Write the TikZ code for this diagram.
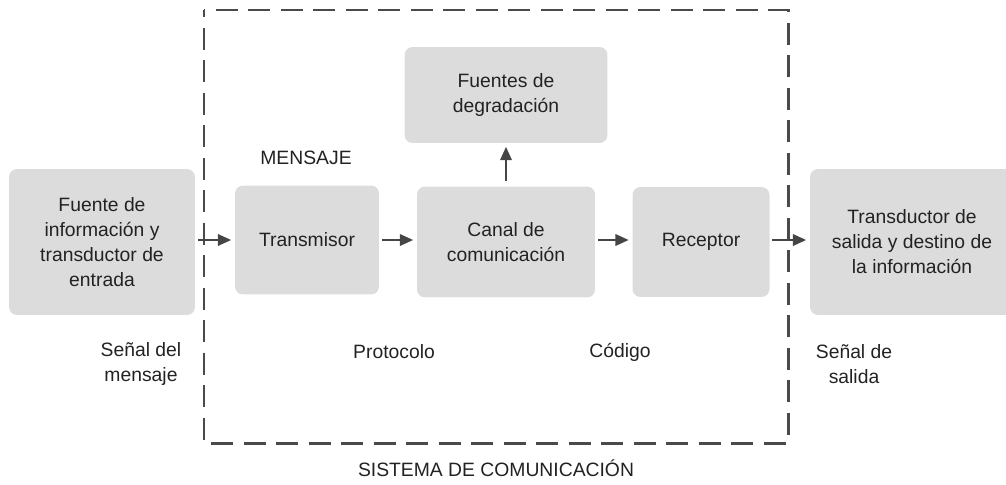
\documentclass[tikz,border=0pt]{standalone}
\usepackage{fontspec}
\setmainfont{Liberation Sans}
\usepackage{tikz}
\usetikzlibrary{arrows.meta}
\definecolor{boxgray}{HTML}{DCDCDC}
\definecolor{linegray}{HTML}{454545}
\definecolor{dashgray}{HTML}{4A4A4A}
\definecolor{txtgray}{HTML}{222222}

\begin{document}
\begin{tikzpicture}[x=0.02cm, y=0.02cm,
  blk/.style={fill=boxgray, rounded corners=0.16cm, align=center, inner sep=0pt},
  lbl/.style={align=center, inner sep=0pt},
  arr/.style={draw=linegray, line width=1.1pt, -{Triangle[length=7.5pt,width=6.5pt]}, shorten <=1.5pt, shorten >=2pt},
  dashbox/.style={draw=dashgray, line width=1.7pt, dash pattern=on 12.5pt off 6pt, dash phase=8.5pt}]
\tikzstyle{every node}+=[text=txtgray, font=\fontsize{11}{14.2}\selectfont]
\useasboundingbox (0,0) rectangle (1006,-484);
\draw [dashbox] (204,-10) rectangle (788,-443);
\node [lbl] (sistema) at (496,-468) {SISTEMA DE COMUNICACIÓN};
\node [blk, minimum width=3.72cm, minimum height=2.92cm] (fuente) at (102,-242) {Fuente de\\información y\\transductor de\\entrada};
\node [blk, minimum width=2.88cm, minimum height=2.18cm] (trans) at (307,-240) {Transmisor};
\node [blk, minimum width=3.56cm, minimum height=2.22cm] (canal) at (506,-242) {Canal de\\comunicación};
\node [blk, minimum width=4.06cm, minimum height=1.92cm] (degr) at (506,-95) {Fuentes de\\degradación};
\node [blk, minimum width=2.74cm, minimum height=2.2cm] (recep) at (701,-242) {Receptor};
\node [blk, minimum width=4.08cm, minimum height=2.92cm] (destino) at (912,-242) {Transductor de\\salida y destino de\\la información};
\node [lbl] (mensaje) at (306,-158) {MENSAJE};
\node [lbl] (protocolo) at (394,-352) {Protocolo};
\node [lbl] (codigo) at (620,-352) {Código};
\node [lbl] (senalin) at (141,-364) {Señal del\\mensaje};
\node [lbl] (senalout) at (854,-364) {Señal de\\salida};
\draw [arr] (fuente.east |- 0,-240) -- (trans.west |- 0,-240);
\draw [arr] (trans.east |- 0,-240) -- (canal.west |- 0,-240);
\draw [arr] (canal.east |- 0,-240) -- (recep.west |- 0,-240);
\draw [arr] (recep.east |- 0,-240) -- (destino.west |- 0,-240);
\draw [arr, shorten <=3pt] (canal.north) -- (degr.south);
\end{tikzpicture}
\end{document}
